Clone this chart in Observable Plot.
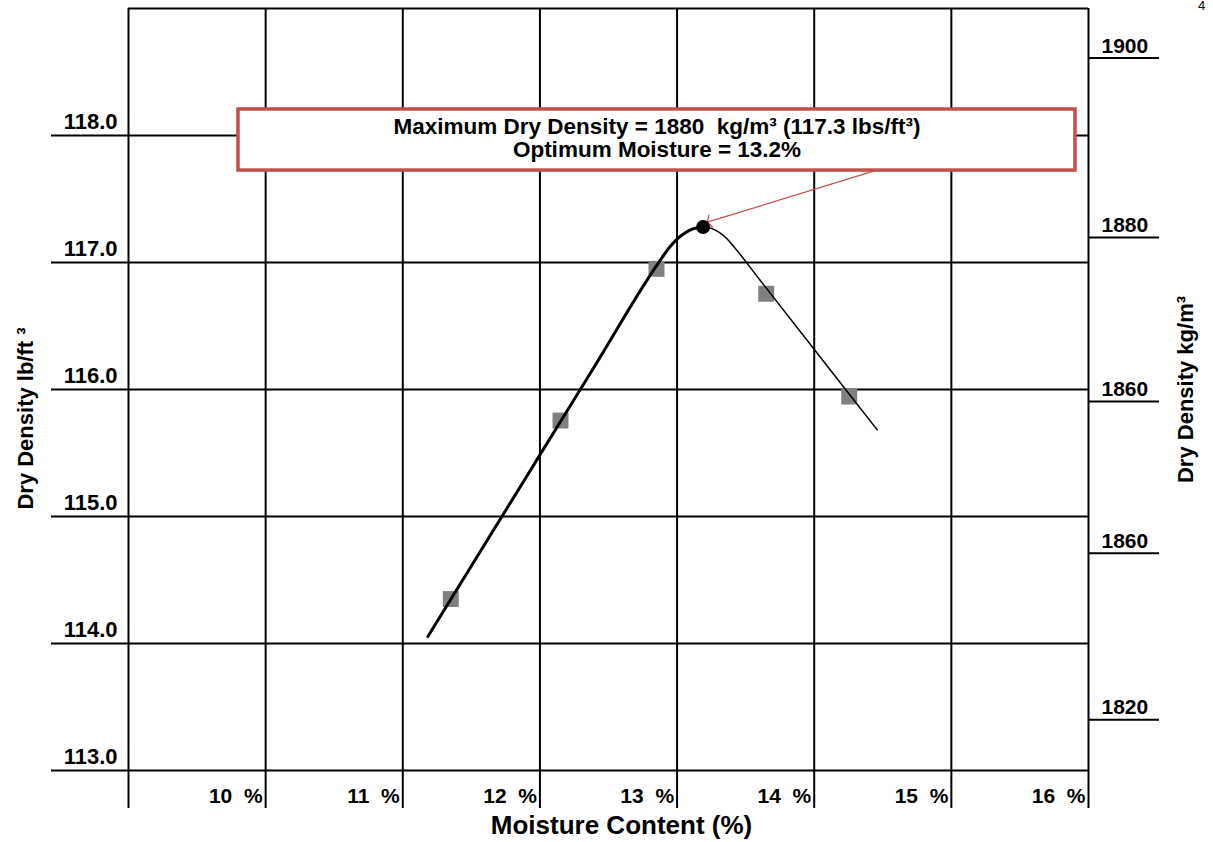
<!DOCTYPE html>
<html>
<head>
<meta charset="utf-8">
<script src="https://cdn.jsdelivr.net/npm/d3@7"></script>
<script src="https://cdn.jsdelivr.net/npm/@observablehq/plot@0.6"></script>
<style>
  html, body { margin: 0; padding: 0; background: white; }
  svg { display: block; }
</style>
</head>
<body>
<div id="chart"></div>
<script>
// ---- data ----
const xTicks = [9, 10, 11, 12, 13, 14, 15, 16];
const xLabelTicks = [10, 11, 12, 13, 14, 15, 16];
const xLabels = ["10\u00a0\u00a0%", "11\u00a0\u00a0%", "12\u00a0\u00a0%", "13\u00a0\u00a0%", "14\u00a0\u00a0%", "15\u00a0\u00a0%", "16\u00a0\u00a0%"];
const yTicks = [113, 114, 115, 116, 117, 118];
const yLabels = ["113.0", "114.0", "115.0", "116.0", "117.0", "118.0"];
const rightTickPos = [118.61, 117.197, 115.906, 114.71, 113.40];
const rightLabels = ["1900", "1880", "1860", "1860", "1820"];

const testMoisture = [11.35, 12.15, 12.85, 13.65, 14.255];
const testDensity = [114.35, 115.756, 116.95, 116.754, 115.945];

const riseMoisture = [11.183, 11.6, 12.0, 12.4, 12.862, 12.95, 13.0, 13.06, 13.12, 13.19];
const riseDensity = [114.055, 114.785, 115.485, 116.185, 116.993, 117.126, 117.184, 117.235, 117.267, 117.28];
const fallMoisture = [13.19, 13.25, 13.31, 13.36, 13.413, 13.6, 13.995, 14.213, 14.459];
const fallDensity = [117.28, 117.269, 117.235, 117.191, 117.126, 116.868, 116.323, 116.022, 115.683];

const peakMoisture = [13.19];
const peakDensity = [117.28];

const noteLines = ["Maximum Dry Density = 1880\u00a0\u00a0kg/m\u00b3 (117.3 lbs/ft\u00b3)", "Optimum Moisture = 13.2%"];
const pageMark = ["4"];

// annotation layout (in data units)
const noteBox = {x1: 9.802, x2: 15.905, y1: 117.724, y2: 118.205};
const leader = {x1: 14.432, y1: 117.719, x2: 13.22, y2: 117.317};

const tests = testMoisture.map((m, i) => ({m, d: testDensity[i]}));
const rise = riseMoisture.map((m, i) => ({m, d: riseDensity[i]}));
const fall = fallMoisture.map((m, i) => ({m, d: fallDensity[i]}));
const peak = peakMoisture.map((m, i) => ({m, d: peakDensity[i]}));

const bold = {fontWeight: "bold", fill: "black"};

const chart = Plot.plot({
  width: 1213,
  height: 842,
  marginLeft: 128,
  marginRight: 125,
  marginTop: 8,
  marginBottom: 72,
  x: {domain: [9, 16], axis: null},
  y: {domain: [113, 119], axis: null},
  style: {fontFamily: "'Liberation Sans', Arial, sans-serif", background: "white", overflow: "visible"},
  marks: [
    Plot.ruleX(xTicks, {stroke: "black", strokeWidth: 2}),
    Plot.ruleY(yTicks, {stroke: "black", strokeWidth: 2}),
    Plot.ruleY([119], {stroke: "black", strokeWidth: 2}),
    Plot.axisX({ticks: xTicks, tickSize: 38, tickFormat: () => "", stroke: "black", strokeWidth: 2}),
    Plot.axisY({anchor: "left", ticks: yTicks, tickSize: 77, tickFormat: () => "", stroke: "black", strokeWidth: 2}),
    Plot.axisY({anchor: "right", ticks: rightTickPos, tickSize: 70, tickFormat: () => "", stroke: "black", strokeWidth: 2}),
    Plot.text(xLabelTicks, {x: d => d, text: (d, i) => xLabels[i], frameAnchor: "bottom", dy: 32, dx: -3, textAnchor: "end", fontSize: 21, ...bold}),
    Plot.text(yTicks, {y: d => d, text: (d, i) => yLabels[i], frameAnchor: "left", dx: -11, dy: -14, textAnchor: "end", fontSize: 22, ...bold}),
    Plot.text(rightTickPos, {y: d => d, text: (d, i) => rightLabels[i], frameAnchor: "right", dx: 13, dy: -12, textAnchor: "start", fontSize: 21, ...bold}),
    Plot.dot(tests, {x: "m", y: "d", symbol: "square", r: 9, fill: "#808080", stroke: "none"}),
    Plot.line(rise, {x: "m", y: "d", stroke: "black", strokeWidth: 3, curve: "monotone-x"}),
    Plot.line(fall, {x: "m", y: "d", stroke: "black", strokeWidth: 1.5, curve: "monotone-x"}),
    Plot.arrow([leader], {x1: "x1", y1: "y1", x2: "x2", y2: "y2", stroke: "#c0504d", strokeWidth: 1.3, headLength: 8, headAngle: 120}),
    Plot.rect([noteBox], {x1: "x1", x2: "x2", y1: "y1", y2: "y2", fill: "white", stroke: "#c0504d", strokeWidth: 3.5}),
    Plot.text([noteLines.join("\n")], {x: (noteBox.x1 + noteBox.x2) / 2, y: (noteBox.y1 + noteBox.y2) / 2, dy: -2, lineHeight: 1.05, fontSize: 22.5, ...bold}),
    Plot.dot(peak, {x: "m", y: "d", r: 7, fill: "black"}),
    Plot.text(["Moisture Content (%)"], {frameAnchor: "bottom", dy: 63, dx: 13, fontSize: 26, ...bold}),
    Plot.text(["Dry Density lb/ft \u00b3"], {frameAnchor: "left", textAnchor: "middle", rotate: -90, dx: -103, dy: 29, fontSize: 22, ...bold}),
    Plot.text(["Dry Density kg/m\u00b3"], {frameAnchor: "right", textAnchor: "middle", rotate: -90, dx: 97, dy: 0, fontSize: 22, ...bold}),
    Plot.text(pageMark, {frameAnchor: "top-right", textAnchor: "middle", dx: 113, dy: -8, lineAnchor: "top", fontSize: 13, fill: "black"})
  ]
});
document.getElementById("chart").appendChild(chart);
</script>
</body>
</html>
